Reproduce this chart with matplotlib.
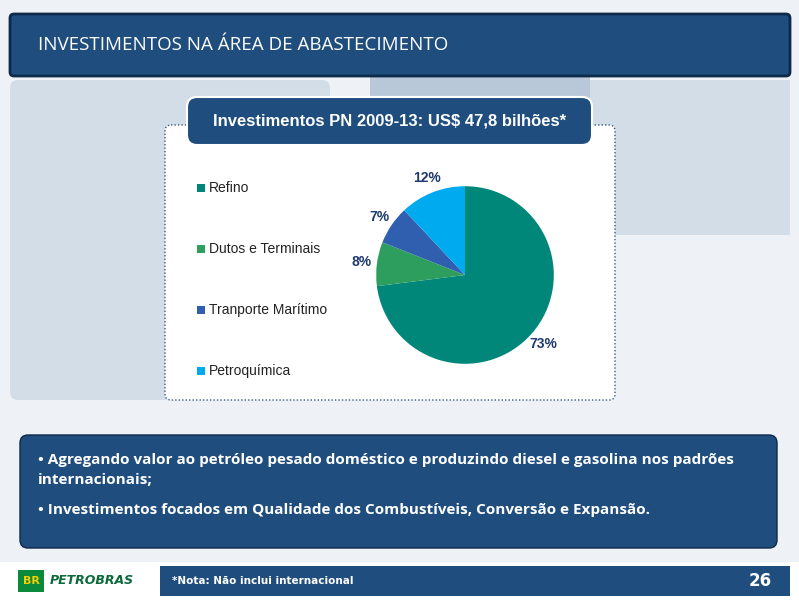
import matplotlib.pyplot as plt
from matplotlib.patches import FancyBboxPatch, Rectangle

categories = ["Refino", "Dutos e Terminais", "Tranporte Marítimo", "Petroquímica"]
shares = [73, 8, 7, 12]
colors = ["#00877a", "#2e9e5e", "#2f5fae", "#00aaef"]
title = "INVESTIMENTOS NA ÁREA DE ABASTECIMENTO"
box_title = "Investimentos PN 2009-13: US$ 47,8 bilhões*"
bullets = ["• Agregando valor ao petróleo pesado doméstico e produzindo diesel e gasolina nos padrões\ninternacionais;",
           "• Investimentos focados em Qualidade dos Combustíveis, Conversão e Expansão."]

fig = plt.figure(figsize=(7.99, 6), dpi=100)
bg = fig.add_axes([0, 0, 1, 1])
bg.set_xlim(0, 799)
bg.set_ylim(600, 0)
bg.axis("off")

dark = "#1f4e7e"
light = "#d3dde8"

def rbox(x, y, w, h, fc, ec="none", pad=8, ls="-", lw=1, z=1):
    bg.add_patch(FancyBboxPatch((x, y), w, h, boxstyle=f"round,pad=0,rounding_size={pad}",
                                fc=fc, ec=ec, ls=ls, lw=lw, zorder=z))

# background panels
bg.add_patch(Rectangle((0, 0), 799, 600, fc="#eef2f6", zorder=0))
rbox(10, 80, 320, 320, light, z=1)
bg.add_patch(Rectangle((590, 80), 200, 155, fc=light, zorder=1))
bg.add_patch(Rectangle((370, 75), 220, 50, fc="#b9c8d8", zorder=1))
# top banner
rbox(10, 14, 780, 62, dark, ec="#0d2a4a", lw=2, pad=4, z=2)
bg.text(38, 45, title, color="white", fontsize=13.5, va="center", family="Open Sans", zorder=3)

# chart box
rbox(165, 125, 450, 275, "white", ec="#3a5a80", ls=(0, (1, 1.5)), lw=1, pad=6, z=2)
rbox(187, 97, 405, 48, dark, ec="white", lw=1.5, pad=10, z=3)
bg.text(390, 121, box_title, color="white", fontsize=12, weight="bold", ha="center",
        va="center", family="Liberation Sans", zorder=4)

# legend
for i, (c, col) in enumerate(zip(categories, colors)):
    y = 188 + i * 61
    bg.add_patch(Rectangle((197, y - 4), 8, 8, fc=col, zorder=4))
    bg.text(209, y, c, fontsize=10, va="center", family="Liberation Sans", color="#222222", zorder=4)

# pie
s = 222
pax = fig.add_axes([(465 - s / 2) / 799, (600 - 275 - s / 2) / 600, s / 799, s / 600])
wedges, texts, autotexts = pax.pie(shares, colors=colors, startangle=90, counterclock=False,
                                   autopct="%d%%", pctdistance=1.17,
                                   textprops=dict(fontsize=10, weight="bold", color="#1f3a6e",
                                                  family="Liberation Sans"))
pax.set_aspect("equal")

# bottom text box
rbox(20, 435, 757, 113, dark, ec="#0d2a4a", lw=1, pad=8, z=2)
bg.text(38, 470, bullets[0], color="white", fontsize=11, weight="bold", va="center",
        family="Open Sans", linespacing=1.5, zorder=3)
bg.text(38, 510, bullets[1], color="white", fontsize=11, weight="bold", va="center",
        family="Open Sans", zorder=3)

# footer
bg.add_patch(Rectangle((0, 562), 799, 38, fc="white", zorder=1))
bg.add_patch(Rectangle((160, 566), 630, 30, fc=dark, zorder=2))
bg.add_patch(Rectangle((18, 570), 26, 22, fc="#0a8a3a", zorder=3))
bg.text(31, 581, "BR", color="#f5d000", fontsize=8, weight="bold", ha="center", va="center", zorder=4)
bg.text(50, 581, "PETROBRAS", color="#0a6a3a", fontsize=9, weight="bold", style="italic", va="center", zorder=4)
bg.text(172, 581, "*Nota: Não inclui internacional", color="white", fontsize=7.5, weight="bold", va="center", zorder=3)
bg.text(772, 581, "26", color="white", fontsize=12, weight="bold", ha="right", va="center", zorder=3)

fig.savefig("out.png", dpi=100)
